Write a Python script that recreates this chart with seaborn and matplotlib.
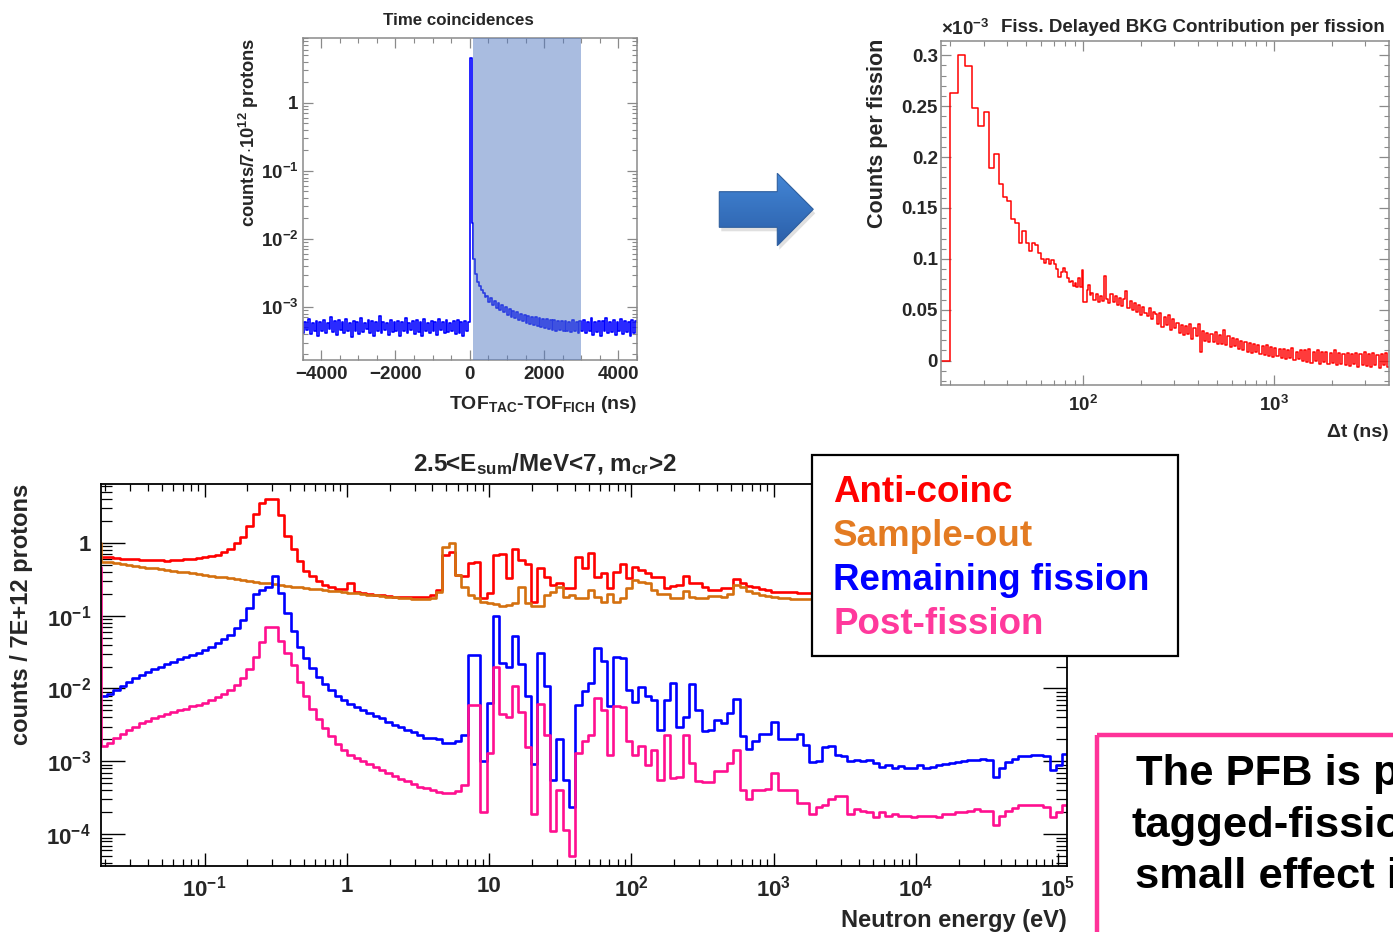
import numpy as np
import matplotlib
matplotlib.use("Agg")
import matplotlib.pyplot as plt
import seaborn as sns
from matplotlib.patches import Polygon, Rectangle
from matplotlib.colors import LinearSegmentedColormap
from matplotlib.ticker import MultipleLocator, LogLocator, FuncFormatter, NullFormatter

# ======================= DATA =======================
# --- Panel 1: time coincidences (50 ns bins, units of 1e-4 counts) ---
tof_window_ns = (100, 3000)
tof_left_e4 = [
    4.2, 6.1, 4.6, 6.6, 4.0, 5.9, 4.4, 6.3, 3.8, 6.0,
    4.5, 6.4, 4.1, 5.8, 4.7, 7.2, 4.3, 6.2, 3.9, 6.5,
    4.6, 6.0, 4.2, 6.7, 4.4, 5.9, 3.6, 6.3, 4.5, 6.1,
    4.0, 6.8, 4.3, 5.9, 4.7, 6.4, 4.1, 6.2, 3.8, 6.0,
    4.4, 7.3, 4.2, 6.1, 4.6, 5.8, 3.9, 6.5, 4.3, 6.0,
    4.5, 6.3, 3.7, 6.1, 4.4, 6.9, 4.1, 5.9, 4.6, 6.2,
    4.0, 6.4, 4.3, 6.0, 3.8, 6.6, 4.5, 5.9, 4.2, 6.3,
    4.4, 6.1, 3.9, 6.7, 4.6, 6.0, 4.1, 6.4, 4.3, 5.8,
    4.5, 6.2, 4.0, 6.5, 4.2, 6.1, 3.7, 6.3, 4.4, 6.0]
tof_right_e4 = [
    45000, 170, 50, 31, 23, 20, 18, 16, 14, 14.5,
    12.0, 13.6, 10.6, 12.4, 9.8, 11.4, 9.0, 10.6, 8.3, 9.9,
    7.7, 9.3, 7.2, 8.8, 6.8, 8.4, 6.5, 8.0, 6.2, 7.7,
    5.9, 7.4, 5.6, 7.2, 5.4, 7.0, 5.2, 6.8, 5.0, 6.7,
    4.9, 6.6, 4.8, 6.4, 4.6, 6.5, 4.5, 6.3, 4.6, 6.2,
    4.4, 6.3, 4.5, 6.1, 4.3, 6.4, 4.4, 6.0, 4.2, 6.2,
    4.5, 6.5, 4.1, 6.0, 4.4, 6.8, 3.9, 6.1, 4.3, 6.3,
    3.8, 6.2, 4.4, 6.9, 4.1, 6.0, 4.3, 6.4, 3.9, 6.1,
    4.5, 6.6, 4.0, 6.2, 4.3, 6.0, 3.8, 6.5, 4.2, 6.3]

# --- Panel 2: delayed background per fission (units of 1e-3) ---
delayed_fine_e3 = [          # 2 ns bins, 20-110 ns
    0.263, 0.300, 0.289, 0.248, 0.231, 0.244, 0.189, 0.203, 0.174, 0.161,
    0.157, 0.139, 0.135, 0.116, 0.127, 0.116, 0.108, 0.116, 0.114, 0.106,
    0.100, 0.0956, 0.100, 0.0947, 0.099, 0.0947, 0.0897, 0.0825, 0.0875, 0.0914,
    0.0875, 0.081, 0.0776, 0.078, 0.0737, 0.076, 0.072, 0.081, 0.072, 0.089,
    0.058, 0.058, 0.069, 0.074, 0.0645]
delayed_coarse_e3 = [        # log bins, 110-4000 ns
    0.066, 0.060, 0.065, 0.058, 0.064, 0.059, 0.083, 0.061, 0.057, 0.065,
    0.058, 0.064, 0.055, 0.062, 0.054, 0.061, 0.068, 0.052, 0.059, 0.050,
    0.057, 0.048, 0.055, 0.045, 0.053, 0.047, 0.044, 0.052, 0.041, 0.048,
    0.046, 0.036, 0.047, 0.033, 0.043, 0.035, 0.045, 0.030, 0.041, 0.032,
    0.037, 0.027, 0.035, 0.025, 0.034, 0.026, 0.036, 0.021, 0.032, 0.024,
    0.036, 0.009, 0.029, 0.019, 0.027, 0.018, 0.026, 0.018, 0.028, 0.016,
    0.025, 0.016, 0.030, 0.015, 0.024, 0.013, 0.022, 0.014, 0.021, 0.011,
    0.019, 0.010, 0.018, 0.009, 0.017, 0.008, 0.016, 0.009, 0.015, 0.007,
    0.014, 0.006, 0.015, 0.005, 0.013, 0.004, 0.012, 0.005, 0.011, 0.003,
    0.011, 0.002, 0.010, 0.003, 0.012, 0.001, 0.009, 0.002, 0.010, 0.000,
    0.010, -0.001, 0.011, -0.002, 0.009, 0.000, 0.010, -0.003, 0.009, -0.001,
    0.009, -0.003, 0.008, -0.002, 0.010, -0.004, 0.008, -0.003, 0.007, -0.004,
    0.008, -0.005, 0.007, -0.003, 0.008, -0.006, 0.007, -0.004, 0.009, -0.005,
    0.007, -0.006, 0.008, -0.004, 0.006, -0.007, 0.007, -0.004, 0.008, -0.006]

# --- Panel 3: neutron-energy spectra (counts / 7E+12 protons) ---
anti_coinc = [
    0.64,
    0.64, 0.63, 0.61, 0.60, 0.59, 0.59, 0.585, 0.58, 0.58, 0.573,
    0.567, 0.573, 0.58, 0.59, 0.60, 0.62, 0.64, 0.65, 0.68, 0.74,
    0.82, 0.98, 1.18, 1.69, 2.47, 3.53, 3.92, 3.92, 2.39, 1.23,
    0.81, 0.567, 0.41, 0.35, 0.30, 0.26, 0.25, 0.234, 0.234, 0.283,
    0.213, 0.202, 0.198, 0.192, 0.192, 0.186, 0.182, 0.182, 0.182, 0.182,
    0.178, 0.182, 0.192, 0.225, 0.68, 0.75, 0.36, 0.35, 0.53, 0.55,
    0.173, 0.202, 0.68, 0.70, 0.325, 0.82, 0.58, 0.505, 0.156, 0.445,
    0.34, 0.263, 0.283, 0.237, 0.237, 0.63, 0.445, 0.73, 0.34, 0.388,
    0.237, 0.40, 0.505, 0.325, 0.469, 0.42, 0.38, 0.335, 0.335, 0.237,
    0.255, 0.263, 0.35, 0.283, 0.277, 0.25, 0.225, 0.225, 0.237, 0.237,
    0.315, 0.283, 0.255, 0.244, 0.234, 0.225, 0.213, 0.213, 0.21, 0.21,
    0.207, 0.207, 0.207, 0.205, 0.204, 0.203, 0.20, 0.201, 0.199, 0.198,
    0.196, 0.197, 0.195, 0.194, 0.193, 0.192, 0.19, 0.191, 0.189, 0.188,
    0.187, 0.186, 0.185, 0.186, 0.184, 0.183, 0.182, 0.183, 0.181, 0.18,
    0.179, 0.178, 0.175, 0.177, 0.176, 0.175, 0.174, 0.173, 0.172, 0.171,
    0.172, 0.17, 0.169, 0.168]
sample_out = [
    1.0,
    0.55, 0.54, 0.52, 0.505, 0.494, 0.48, 0.469, 0.455, 0.445, 0.43,
    0.42, 0.414, 0.40, 0.392, 0.38, 0.37, 0.36, 0.35, 0.34, 0.335,
    0.325, 0.315, 0.308, 0.30, 0.292, 0.283, 0.277, 0.27, 0.263, 0.258,
    0.25, 0.244, 0.24, 0.234, 0.23, 0.225, 0.22, 0.216, 0.21, 0.207,
    0.202, 0.198, 0.194, 0.19, 0.186, 0.182, 0.178, 0.175, 0.173, 0.171,
    0.169, 0.171, 0.175, 0.213, 0.86, 1.0, 0.36, 0.25, 0.192, 0.173,
    0.156, 0.148, 0.143, 0.136, 0.14, 0.151, 0.25, 0.148, 0.136, 0.136,
    0.192, 0.213, 0.25, 0.182, 0.192, 0.173, 0.173, 0.225, 0.182, 0.156,
    0.198, 0.156, 0.173, 0.237, 0.308, 0.292, 0.277, 0.225, 0.198, 0.198,
    0.177, 0.173, 0.22, 0.178, 0.177, 0.173, 0.186, 0.186, 0.182, 0.198,
    0.263, 0.25, 0.22, 0.202, 0.192, 0.186, 0.178, 0.175, 0.173, 0.171,
    0.169, 0.169, 0.167, 0.166, 0.166, 0.165, 0.164, 0.165, 0.163, 0.162,
    0.162, 0.161, 0.16, 0.161, 0.159, 0.158, 0.158, 0.157, 0.156, 0.157,
    0.155, 0.155, 0.154, 0.155, 0.153, 0.152, 0.153, 0.151, 0.152, 0.15,
    0.15, 0.149, 0.148, 0.149, 0.147, 0.148, 0.146, 0.146, 0.145, 0.145,
    0.144, 0.144, 0.143, 0.143]
remaining_fission = [
    0.0078,
    0.0078, 0.0085, 0.0094, 0.0107, 0.0121, 0.0139, 0.0154, 0.0168, 0.0184, 0.020,
    0.0216, 0.0234, 0.0252, 0.0269, 0.0289, 0.0311, 0.0339, 0.0368, 0.042, 0.047,
    0.055, 0.067, 0.087, 0.126, 0.198, 0.225, 0.25, 0.35, 0.207, 0.11,
    0.062, 0.0376, 0.026, 0.019, 0.0146, 0.0115, 0.0094, 0.0079, 0.0069, 0.0061,
    0.0055, 0.005, 0.0046, 0.0042, 0.0039, 0.0035, 0.0032, 0.003, 0.0027, 0.0025,
    0.0023, 0.0021, 0.0021, 0.002, 0.0018, 0.0018, 0.0019, 0.0023, 0.0289, 0.0289,
    0.001, 0.0063, 0.10, 0.0222, 0.0196, 0.053, 0.0216, 0.0079, 0.00092, 0.0305,
    0.0109, 0.00055, 0.002, 0.00055, 0.00024, 0.006, 0.0091, 0.0118, 0.0357, 0.0242,
    0.0058, 0.0274, 0.026, 0.0094, 0.0066, 0.0104, 0.0078, 0.007, 0.0027, 0.007,
    0.0118, 0.003, 0.0041, 0.0115, 0.0051, 0.0026, 0.0027, 0.0037, 0.0034, 0.0046,
    0.0072, 0.0022, 0.00148, 0.0019, 0.0024, 0.0024, 0.0035, 0.002, 0.002, 0.002,
    0.0024, 0.0017, 0.00097, 0.001, 0.0016, 0.00164, 0.00123, 0.00117, 0.001, 0.00105,
    0.001, 0.00105, 0.00095, 0.00085, 0.0009, 0.00081, 0.00087, 0.00081, 0.00081, 0.0009,
    0.00081, 0.00085, 0.0009, 0.00093, 0.00095, 0.00097, 0.001, 0.00103, 0.00105, 0.00108,
    0.00103, 0.00061, 0.00081, 0.00097, 0.00108, 0.00117, 0.0012, 0.00123, 0.00123, 0.00117,
    0.00077, 0.0009, 0.00127, 0.0013]
post_fission = [
    0.47,
    0.00164, 0.0018, 0.0021, 0.0024, 0.0027, 0.003, 0.0034, 0.0036, 0.0039, 0.0042,
    0.0045, 0.0048, 0.0051, 0.0053, 0.0057, 0.006, 0.0064, 0.0069, 0.0076, 0.0085,
    0.0096, 0.0112, 0.0139, 0.0184, 0.0274, 0.044, 0.069, 0.069, 0.045, 0.0305,
    0.0207, 0.0121, 0.0078, 0.0052, 0.0038, 0.0029, 0.0022, 0.00175, 0.00145, 0.00123,
    0.00111, 0.00102, 0.00093, 0.00085, 0.00077, 0.00069, 0.00064, 0.00058, 0.00053, 0.00049,
    0.00045, 0.00043, 0.0004, 0.00038, 0.00037, 0.00037, 0.00039, 0.00048, 0.006, 0.006,
    0.0002, 0.0013, 0.02, 0.0044, 0.004, 0.0107, 0.0048, 0.00156, 0.00019, 0.0061,
    0.0023, 0.00011, 0.00041, 0.000116, 0.00005, 0.0013, 0.0019, 0.0023, 0.0074, 0.0051,
    0.00123, 0.0058, 0.0055, 0.0019, 0.00121, 0.00164, 0.0009, 0.00145, 0.00056, 0.0023,
    0.00059, 0.00062, 0.0023, 0.00095, 0.00053, 0.00052, 0.00052, 0.00073, 0.00073, 0.00095,
    0.00145, 0.00041, 0.0003, 0.0004, 0.00041, 0.00042, 0.00069, 0.00041, 0.00041, 0.00041,
    0.00027, 0.00027, 0.00019, 0.00024, 0.00025, 0.0003, 0.00034, 0.00033, 0.00019, 0.00022,
    0.00021, 0.0002, 0.00017, 0.0002, 0.00018, 0.00019, 0.00018, 0.00018, 0.00017, 0.00018,
    0.00018, 0.00018, 0.00017, 0.00019, 0.00019, 0.0002, 0.0002, 0.00021, 0.00022, 0.00021,
    0.00021, 0.000136, 0.00018, 0.00021, 0.00023, 0.00025, 0.00025, 0.00025, 0.00025, 0.00024,
    0.00017, 0.0002, 0.00025, 0.00025]

legend_labels = ["Anti-coinc", "Sample-out", "Remaining fission", "Post-fission"]
line_colors = ["#ff0000", "#d4700f", "#0000ff", "#ff0f8f"]
legend_colors = ["#ff0000", "#e37b22", "#0000ff", "#ff399c"]
box_lines = ["The PFB is p", "tagged-fissio", "small effect i"]   # as visible (cut by slide edge)

# ======================= STYLE =======================
sns.set_theme(style="white")
plt.rcParams['font.family'] = ['Liberation Sans', 'DejaVu Sans']
plt.rcParams['font.weight'] = 'bold'
plt.rcParams['mathtext.fontset'] = 'custom'
for k in ('rm', 'it', 'bf', 'sf', 'cal'):
    plt.rcParams['mathtext.' + k] = 'Liberation Sans:bold'
plt.rcParams['mathtext.default'] = 'rm'
plt.rcParams['axes.unicode_minus'] = True

W, H = 1393, 932
fig = plt.figure(figsize=(W / 100, H / 100), dpi=100)
fig.patch.set_facecolor('white')
GRAY = '#8a8a8a'


def rect(l, t, r, b):
    return [l / W, 1 - b / H, (r - l) / W, (b - t) / H]


def log_label(v, pos):
    if v <= 0:
        return ''
    e = int(round(np.log10(v)))
    if abs(np.log10(v) - e) > 1e-6:
        return ''
    if e == 0:
        return '1'
    if e == 1:
        return '10'
    return r'$10^{%d}$' % e


def frame(ax, color, lw):
    for s in ax.spines.values():
        s.set_visible(True)
        s.set_color(color)
        s.set_linewidth(lw)


def step(ax, edges, vals, color, lw):
    vals = np.asarray(vals, dtype=float)
    y = np.append(vals, vals[-1])
    sns.lineplot(x=np.asarray(edges, dtype=float), y=y, drawstyle='steps-post',
                 color=color, linewidth=lw, ax=ax, errorbar=None, legend=False,
                 sort=False)


# ======================= PANEL 1 =======================
tof_counts = np.array(tof_left_e4 + tof_right_e4) * 1e-4
tof_edges = np.arange(-4500, 4501, 50)
ax1 = fig.add_axes(rect(302.5, 38, 637, 360))
step(ax1, tof_edges, tof_counts, '#0000ff', 1.2)
ax1.axvspan(*tof_window_ns, color='#547ac2', alpha=0.5, lw=0, zorder=3)
ax1.set_yscale('log')
ax1.set_xlim(-4500, 4500)
ax1.set_ylim(1.66e-4, 9)
ax1.xaxis.set_major_locator(MultipleLocator(2000))
ax1.xaxis.set_minor_locator(MultipleLocator(500))
ax1.xaxis.set_major_formatter(FuncFormatter(lambda v, p: f'{int(round(v))}'.replace('-', '\u2212')))
ax1.yaxis.set_major_locator(LogLocator(10, numticks=30))
ax1.yaxis.set_minor_locator(LogLocator(10, subs=np.arange(2, 10), numticks=30))
ax1.yaxis.set_major_formatter(FuncFormatter(log_label))
ax1.yaxis.set_minor_formatter(NullFormatter())
ax1.tick_params(which='both', direction='in', top=True, right=True, bottom=True, left=True,
                color=GRAY, labelsize=13.5)
ax1.tick_params(which='major', length=7, width=0.9)
ax1.tick_params(which='minor', length=3.5, width=0.8)
ax1.tick_params(axis='x', pad=4)
ax1.tick_params(axis='y', pad=3)
ax1.set_xlabel('')
ax1.set_ylabel('')
frame(ax1, GRAY, 1.1)

# ======================= PANEL 2 =======================
dt_edges = np.concatenate([[16.0], np.arange(20, 110, 2), np.geomspace(110, 4000, 141)])
delayed = np.array([0.0] + delayed_fine_e3 + delayed_coarse_e3)
ax2 = fig.add_axes(rect(940.7, 40.7, 1389, 385))
step(ax2, dt_edges, delayed, '#ff0000', 1.1)
ax2.set_xscale('log')
ax2.set_xlim(17.9, 3990)
ax2.set_ylim(-0.0239, 0.3143)
ax2.yaxis.set_major_locator(MultipleLocator(0.05))
ax2.yaxis.set_minor_locator(MultipleLocator(0.01))
ax2.yaxis.set_major_formatter(FuncFormatter(lambda v, p: '0' if abs(v) < 1e-9 else '%g' % round(v, 3)))
ax2.xaxis.set_major_locator(LogLocator(10, numticks=30))
ax2.xaxis.set_minor_locator(LogLocator(10, subs=np.arange(2, 10), numticks=30))
ax2.xaxis.set_major_formatter(FuncFormatter(log_label))
ax2.xaxis.set_minor_formatter(NullFormatter())
ax2.tick_params(which='both', direction='in', top=True, right=True, bottom=True, left=True,
                color=GRAY, labelsize=13.5)
ax2.tick_params(which='major', length=7.5, width=0.9)
ax2.tick_params(which='minor', length=3.5, width=0.8)
ax2.tick_params(axis='x', pad=7)
ax2.tick_params(axis='y', pad=2)
ax2.set_xlabel('')
ax2.set_ylabel('')
frame(ax2, GRAY, 1.1)

# ======================= PANEL 3 =======================
e_step = 0.04448
e_edges = 10 ** (np.log10(0.0186) + e_step * np.arange(-1, len(anti_coinc)))
ax3 = fig.add_axes(rect(100.7, 483.7, 1066.7, 866))
for vals, col in zip([anti_coinc, sample_out, remaining_fission, post_fission], line_colors):
    step(ax3, e_edges, vals, col, 1.9)
ax3.set_xscale('log')
ax3.set_yscale('log')
ax3.set_xlim(0.0186, 1.15e5)
ax3.set_ylim(3.67e-5, 6.45)
for axis in (ax3.xaxis, ax3.yaxis):
    axis.set_major_locator(LogLocator(10, numticks=30))
    axis.set_minor_locator(LogLocator(10, subs=np.arange(2, 10), numticks=30))
    axis.set_major_formatter(FuncFormatter(log_label))
    axis.set_minor_formatter(NullFormatter())
ax3.tick_params(which='both', direction='in', top=True, right=True, bottom=True, left=True,
                color='black', labelsize=16)
ax3.tick_params(axis='x', which='major', length=9.5, width=1.0, pad=7)
ax3.tick_params(axis='x', which='minor', length=5, width=0.9)
ax3.tick_params(axis='y', which='major', length=17, width=1.0, pad=7)
ax3.tick_params(axis='y', which='minor', length=8, width=0.9)
ax3.set_xlabel('')
ax3.set_ylabel('')
frame(ax3, 'black', 1.3)

# ======================= OVERLAY (texts, legend, arrow, box) =======================
ov = fig.add_axes([0, 0, 1, 1])
ov.set_zorder(10)
ov.axis('off')

# panel 1 texts
ov.text(458, 25, 'Time coincidences', ha='center', va='baseline', fontsize=12.2)
ov.text(249, 38, r'counts/7$\cdot$10$^{12}$ protons', rotation=90, ha='center', va='top', fontsize=13.2)
ov.text(637, 409, r'TOF$_{TAC}$-TOF$_{FICH}$ (ns)', ha='right', va='baseline', fontsize=14)

# panel 2 texts
ov.text(941, 35, r'$\times$10$^{-3}$', ha='left', va='baseline', fontsize=13.5)
ov.text(1001, 31.5, 'Fiss. Delayed BKG Contribution per fission', ha='left', va='baseline', fontsize=13.5)
ov.text(877, 39, 'Counts per fission', rotation=90, ha='center', va='top', fontsize=15.5)
ov.text(1389, 437, '\u0394t (ns)', ha='right', va='baseline', fontsize=14)

# panel 3 texts
ov.text(544.5, 470.7, r'2.5<E$_{sum}$/MeV<7, m$_{cr}$>2', ha='center', va='baseline', fontsize=17.5)
ov.text(22, 483.7, 'counts / 7E+12 protons', rotation=90, ha='center', va='top', fontsize=17)
ov.text(1067, 926.7, 'Neutron energy (eV)', ha='right', va='baseline', fontsize=17)

# legend box
ov.add_patch(Rectangle((812.3, 455.3), 1178 - 812.3, 656 - 455.3, fc='white', ec='black', lw=1.6, zorder=2))
for lab, col, yb in zip(legend_labels, legend_colors, [501.7, 545.5, 590, 634.5]):
    ov.text(833, yb, lab, color=col, ha='left', va='baseline', fontsize=26.5, zorder=3)

# arrow with gradient
arrow_xy = [(719.3, 191.7), (777.3, 191.7), (777.3, 173.3), (813.3, 209.3),
            (777.3, 245.7), (777.3, 227.3), (719.3, 227.3)]
shadow = Polygon([(x + 2, y + 4) for x, y in arrow_xy], closed=True, fc='black', ec='none', alpha=0.12, zorder=1)
ov.add_patch(shadow)
poly = Polygon(arrow_xy, closed=True, fc='none', ec='#2f5f9e', lw=0.8, zorder=3)
ov.add_patch(poly)
cmap = LinearSegmentedColormap.from_list('arr', ['#4386d6', '#2b5fa9'])
grad = np.linspace(0, 1, 100).reshape(-1, 1)
im = ov.imshow(grad, extent=(719.3, 813.3, 245.7, 173.3), cmap=cmap, aspect='auto', zorder=2)
im.set_clip_path(poly)

# pink text box (cut by the slide edge, as in the reference)
ov.add_patch(Rectangle((1097, 735), 420, 320, fill=False, ec='#ff3399', lw=3.2, zorder=2))
for line, xl, yb in zip(box_lines, [1135.7, 1131.7, 1135], [785, 837, 888]):
    ov.text(xl, yb, line, ha='left', va='baseline', fontsize=31.3, color='black', zorder=3)

ov.set_xlim(0, W)
ov.set_ylim(H, 0)

fig.savefig('out.png', dpi=100)
